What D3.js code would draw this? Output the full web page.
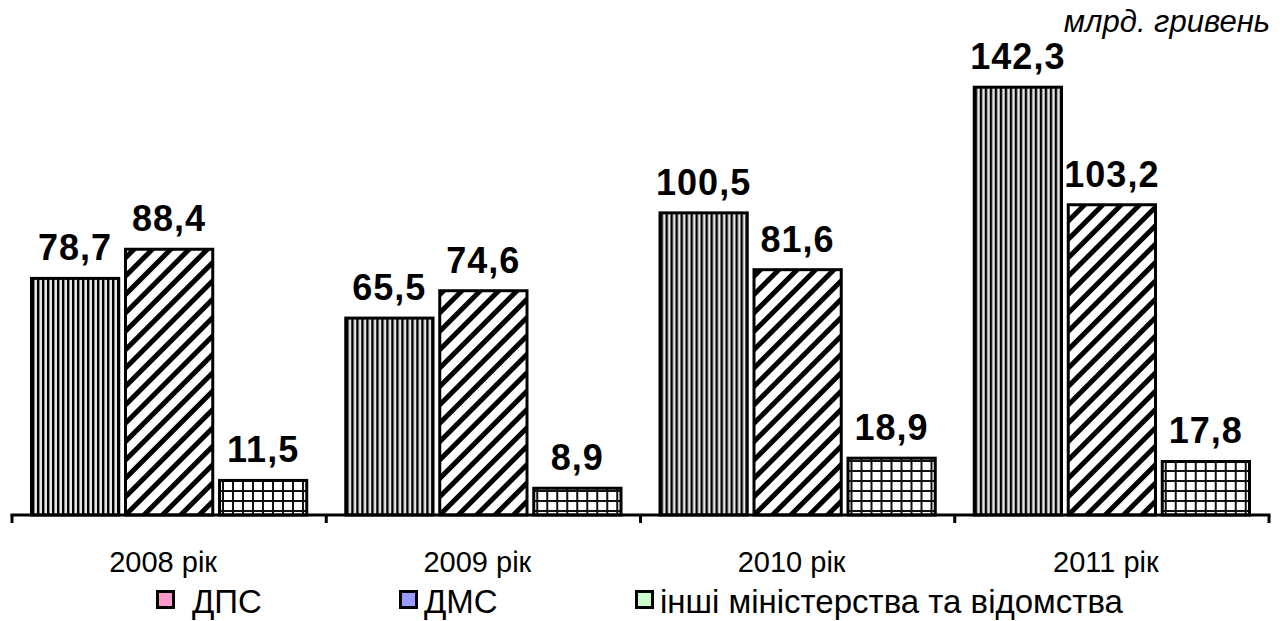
<!DOCTYPE html>
<html>
<head>
<meta charset="utf-8">
<script src="https://cdn.jsdelivr.net/npm/d3@7"></script>
<style>
  html, body { margin: 0; padding: 0; background: #fff; }
  svg { display: block; font-family: Arial, "Liberation Sans", sans-serif; }
</style>
</head>
<body>
<svg id="chart" width="1285" height="621"></svg>
<script>
// Revenue by collecting body, bn UAH
const years = ["2008 рік", "2009 рік", "2010 рік", "2011 рік"];
const seriesNames = ["ДПС", "ДМС", "інші міністерства та відомства"];
const dps = [78.7, 65.5, 100.5, 142.3];
const dms = [88.4, 74.6, 81.6, 103.2];
const other = [11.5, 8.9, 18.9, 17.8];
const legendColors = ["#ff99cc", "#9999ff", "#ccffcc"];
const unitLabel = "млрд. гривень";

const series = [dps, dms, other];
const fmt = v => d3.format(".1f")(v).replace(".", ",");

const svg = d3.select("#chart");
const defs = svg.append("defs");

// vertical stripes
const pV = defs.append("pattern").attr("id", "pat-vert")
  .attr("patternUnits", "userSpaceOnUse").attr("width", 5).attr("height", 5);
pV.append("rect").attr("width", 5).attr("height", 5).attr("fill", "#e6e6e6");
pV.append("rect").attr("x", 0).attr("width", 2).attr("height", 5).attr("fill", "#000");
pV.append("rect").attr("x", 2).attr("width", 1).attr("height", 5).attr("fill", "#888");

// wide diagonal stripes
const pD = defs.append("pattern").attr("id", "pat-diag")
  .attr("patternUnits", "userSpaceOnUse").attr("width", 13).attr("height", 13)
  .attr("patternTransform", "rotate(45)");
pD.append("rect").attr("width", 13).attr("height", 13).attr("fill", "#fff");
pD.append("rect").attr("x", 0).attr("width", 5).attr("height", 13).attr("fill", "#000");

// small grid
const pG = defs.append("pattern").attr("id", "pat-grid")
  .attr("patternUnits", "userSpaceOnUse").attr("width", 10).attr("height", 10);
pG.append("rect").attr("width", 10).attr("height", 10).attr("fill", "#fff");
pG.append("rect").attr("x", 0).attr("width", 2).attr("height", 10).attr("fill", "#111");
pG.append("rect").attr("y", 0).attr("width", 10).attr("height", 2).attr("fill", "#111");

const fills = ["url(#pat-vert)", "url(#pat-diag)", "url(#pat-grid)"];

const axisLeft = 12, axisRight = 1269, baseY = 515;

const x0 = d3.scaleBand().domain(years).range([axisLeft, axisRight]).padding(0);
const x1 = d3.scaleBand().domain(d3.range(series.length))
  .range([18, x0.bandwidth() - 18]).paddingInner(0.04);
const y = d3.scaleLinear().domain([0, 160]).range([baseY, 34]);

const groups = svg.append("g").selectAll("g")
  .data(years).join("g")
  .attr("transform", d => `translate(${x0(d)},0)`);

groups.each(function(yr, i) {
  const g = d3.select(this);
  series.forEach((s, k) => {
    const v = s[i];
    g.append("rect")
      .attr("x", x1(k) + 1.5)
      .attr("y", y(v))
      .attr("width", x1.bandwidth() - 3)
      .attr("height", baseY - y(v))
      .attr("fill", fills[k])
      .attr("stroke", "#000")
      .attr("stroke-width", 3);
    g.append("text")
      .attr("x", x1(k) + x1.bandwidth() / 2)
      .attr("y", y(v) - 18)
      .attr("text-anchor", "middle")
      .attr("font-size", 36)
      .attr("font-weight", "bold")
      .attr("letter-spacing", 1)
      .text(fmt(v));
  });
});

// category axis
const axis = d3.axisBottom(x0).tickSize(0).tickPadding(0);
const axG = svg.append("g").attr("transform", `translate(0,${baseY})`).call(axis);
axG.select(".domain").remove();
axG.attr("font-size", null).attr("font-family", null);
axG.selectAll(".tick text")
  .attr("x", -6)
  .attr("y", 57)
  .attr("dy", 0)
  .attr("font-size", 29)
  .attr("fill", "#000");

svg.append("line")
  .attr("x1", axisLeft).attr("x2", axisRight)
  .attr("y1", baseY).attr("y2", baseY)
  .attr("stroke", "#000").attr("stroke-width", 3).attr("stroke-linecap", "square");

const tickXs = years.map(d => x0(d)).concat([axisRight]);
svg.append("g").selectAll("line").data(tickXs).join("line")
  .attr("x1", d => d).attr("x2", d => d)
  .attr("y1", baseY).attr("y2", baseY + 8)
  .attr("stroke", "#000").attr("stroke-width", 3);

// unit caption
svg.append("text")
  .attr("x", 1270).attr("y", 32)
  .attr("text-anchor", "end")
  .attr("font-size", 31)
  .attr("font-style", "italic")
  .text(unitLabel);

// legend
const legendX = [156, 399, 635];
const lg = svg.append("g").selectAll("g").data(seriesNames).join("g")
  .attr("transform", (d, i) => `translate(${legendX[i]},590)`);
lg.append("rect")
  .attr("x", 1.5).attr("y", 1.5).attr("width", 16).attr("height", 16)
  .attr("fill", (d, i) => legendColors[i])
  .attr("stroke", "#000").attr("stroke-width", 3);
lg.append("text")
  .attr("x", (d, i) => i === 0 ? 36 : 25)
  .attr("y", 23)
  .attr("font-size", 33)
  .text(d => d);
</script>
</body>
</html>
